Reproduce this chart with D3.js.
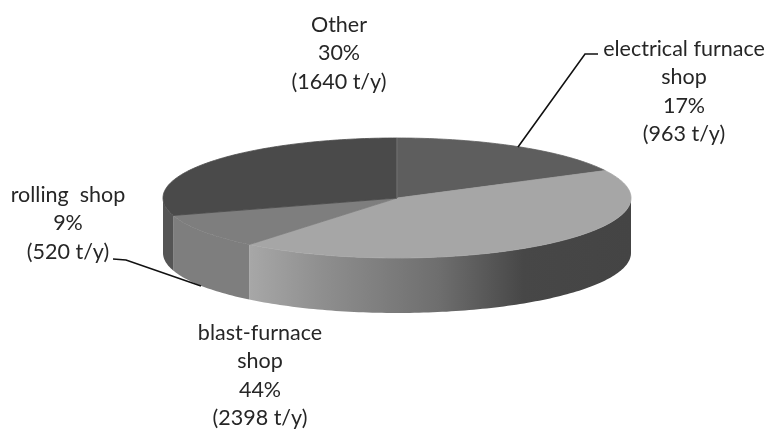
<!DOCTYPE html>
<html>
<head>
<meta charset="utf-8">
<script src="https://cdn.jsdelivr.net/npm/d3@7"></script>
<style>
    html, body { margin: 0; padding: 0; background: #fff; }
    svg { filter: blur(0.4px); }
    text { font-family: "Lato", sans-serif; font-size: 21.5px; fill: #262626; text-anchor: middle; }
</style>
</head>
<body>
<div id="chart"></div>
<script>
    var categories = ["electrical furnace shop", "blast-furnace shop", "rolling shop", "Other"];
    var tonnes = [963, 2398, 520, 1640];
    var topColors = ["#5e5e5e", "#a6a6a6", "#7e7e7e", "#4a4a4a"];
    var wallColors = ["#5e5e5e", "url(#blastWall)", "#7e7e7e", "#555555"];

    var labelLines = [
        ["electrical furnace", "shop", "17%", "(963 t/y)"],
        ["blast-furnace", "shop", "44%", "(2398 t/y)"],
        ["rolling  shop", "9%", "(520 t/y)"],
        ["Other", "30%", "(1640 t/y)"]
    ];
    var labelPos = [[684, 56], [260, 340], [68, 202], [339, 32]];

    var leaders = [
        [[518, 147], [585, 54], [598, 54]],
        [[113, 259], [126, 260], [201, 286]]
    ];

    var width = 766, height = 430, depth = 55, lineHeight = 28.3;

    var x = d3.scaleLinear().domain([-1, 1]).range([163, 631]);
    var y = d3.scaleLinear().domain([-1, 1]).range([138, 258]);

    var svg = d3.select("#chart").append("svg")
        .attr("width", width)
        .attr("height", height)
        .style("display", "block");

    var grad = svg.append("defs").append("linearGradient")
        .attr("id", "blastWall")
        .attr("gradientUnits", "userSpaceOnUse")
        .attr("x1", 247).attr("x2", 631).attr("y1", 0).attr("y2", 0);
    [[0, "#a8a8a8"], [0.2, "#8e8e8e"], [0.5, "#6e6e6e"], [0.72, "#474747"], [1, "#444444"]].forEach(function(s) {
        grad.append("stop").attr("offset", s[0]).attr("stop-color", s[1]);
    });

    var pie = d3.pie().sort(null)(tonnes);

    // points along the rim, angle runs clockwise from the top
    function rim(a0, a1, dy) {
        var pts = [];
        var n = Math.max(2, Math.ceil((a1 - a0) / 0.02));
        for (var i = 0; i <= n; i++) {
            var a = a0 + (a1 - a0) * i / n;
            pts.push([x(Math.sin(a)), y(-Math.cos(a)) + dy]);
        }
        return pts;
    }

    var line = d3.line();

    // side walls, only the front half can be seen
    pie.forEach(function(d, i) {
        var a0 = Math.max(d.startAngle, Math.PI / 2);
        var a1 = Math.min(d.endAngle, Math.PI * 1.5);
        if (a1 <= a0) return;
        var pts = rim(a0, a1, 0).concat(rim(a0, a1, depth).reverse());
        svg.append("path")
            .attr("d", line(pts) + "Z")
            .attr("fill", wallColors[i]);
    });

    // top faces, the thin stroke hides the seam along the rim
    pie.forEach(function(d, i) {
        var pts = [[x(0), y(0)]].concat(rim(d.startAngle, d.endAngle, 0));
        svg.append("path")
            .attr("d", line(pts) + "Z")
            .attr("fill", topColors[i])
            .attr("stroke", topColors[i])
            .attr("stroke-width", 0.8);
    });

    svg.append("line")
        .attr("x1", x(0)).attr("x2", x(0))
        .attr("y1", y(-1)).attr("y2", y(0))
        .attr("stroke", "#7a7a7a")
        .attr("stroke-width", 1);

    leaders.forEach(function(l) {
        svg.append("path")
            .attr("d", line(l))
            .attr("fill", "none")
            .attr("stroke", "#111")
            .attr("stroke-width", 1.6);
    });

    labelLines.forEach(function(lines, i) {
        var t = svg.append("text").style("white-space", "pre");
        lines.forEach(function(s, j) {
            t.append("tspan")
                .attr("x", labelPos[i][0])
                .attr("y", labelPos[i][1] + j * lineHeight)
                .text(s);
        });
    });
</script>
</body>
</html>
